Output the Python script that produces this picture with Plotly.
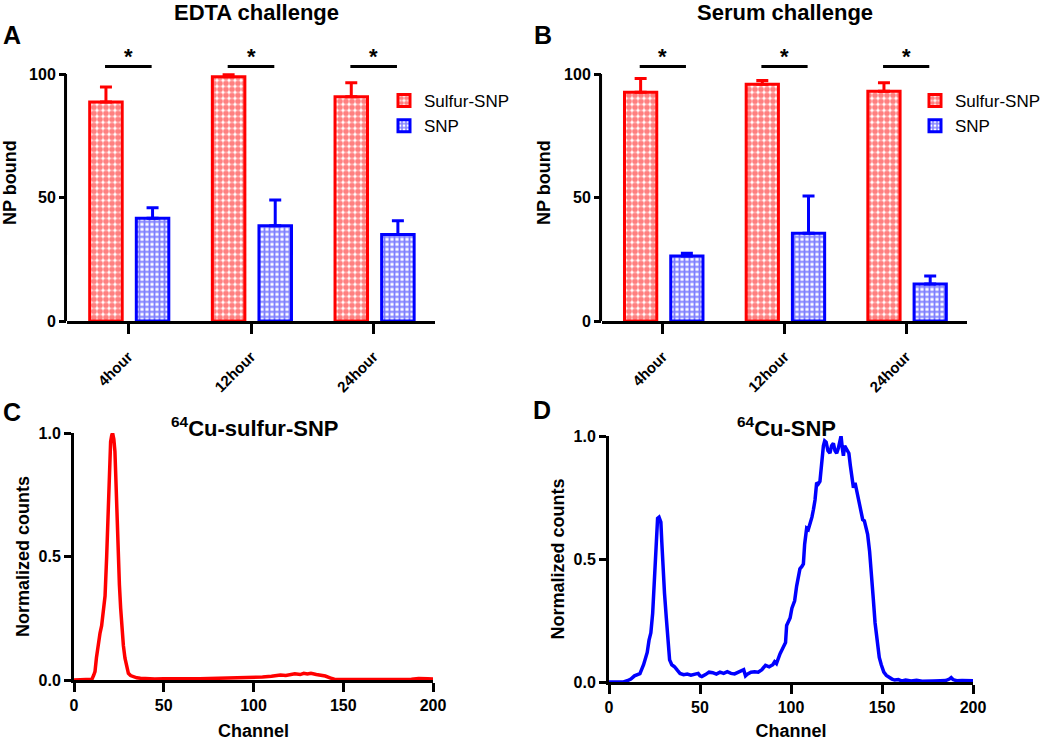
import plotly.graph_objects as go

# ---------------- data ----------------
categories = ["4hour", "12hour", "24hour"]

edta_sulfur = [88.7, 98.9, 90.8]
edta_sulfur_err = [6.0, 0.8, 5.7]
edta_snp = [41.6, 38.6, 35.0]
edta_snp_err = [4.2, 10.4, 5.6]

serum_sulfur = [92.6, 95.8, 93.0]
serum_sulfur_err = [5.6, 1.6, 3.5]
serum_snp = [26.3, 35.5, 15.0]
serum_snp_err = [1.1, 15.1, 3.2]

sig_labels = ["*", "*", "*"]

# 64Cu-sulfur-SNP radio-TLC trace (channel, normalized counts)
c_channel = [0, 3, 6, 9, 10, 11, 11.7, 12.5, 13.6, 14.5, 15.4, 16.3, 17.3, 18.2, 19.1, 19.8,
             20.4, 21, 21.5, 22.2, 22.8, 23.3, 23.8, 24.5, 25.3, 26, 26.6, 27.5, 28.4, 29.3,
             30.3, 31.5, 33, 35, 37, 40, 45, 50, 55, 60, 65, 70, 75, 80, 85, 90, 95, 100,
             105, 110, 115, 118, 120, 123, 126, 128, 130, 132, 135, 138, 140, 143, 145, 148,
             150, 160, 170, 180, 188, 192, 195, 197, 200]
c_counts = [0, 0, 0, 0, 0.003, 0.02, 0.034, 0.09, 0.155, 0.19, 0.22, 0.27, 0.34, 0.5, 0.695, 0.86,
            0.965, 0.99, 1.0, 0.975, 0.925, 0.82, 0.695, 0.53, 0.385, 0.29, 0.22, 0.14, 0.088, 0.05,
            0.027, 0.018, 0.013, 0.009, 0.007, 0.005, 0.004, 0.005, 0.006, 0.004, 0.005, 0.005, 0.006,
            0.006, 0.007, 0.008, 0.008, 0.009, 0.012, 0.015, 0.02, 0.018, 0.022, 0.025, 0.022, 0.027,
            0.024, 0.027, 0.022, 0.02, 0.016, 0.008, 0.003, 0.002, 0.002, 0.002, 0.002, 0.002, 0.003,
            0.006, 0.007, 0.005, 0.004]

# 64Cu-SNP radio-TLC trace
d_channel = [0, 5, 8, 10, 12, 14, 16, 17, 19, 20, 21, 22, 23, 24, 25, 26, 26.7, 27.5, 28.5, 29,
             29.7, 30.5, 31.5, 32.5, 33.3, 34.5, 36, 37.5, 39, 41, 43, 45, 47, 49, 50, 51, 53, 55,
             57, 59, 61, 63, 65, 67, 69, 71, 73, 74, 75, 76, 78, 80, 82, 84, 86, 88, 90, 91, 92,
             93, 94, 95, 96, 97, 97.6, 98.5, 99.5, 100.5, 101.3, 102, 103.1, 104, 104.9, 106,
             106.8, 107.5, 108.6, 109.5, 110.4, 111.5, 112.3, 113.2, 114.1, 115, 115.9, 116.8,
             117.8, 118.5, 119.3, 120.3, 121.4, 122.3, 123.3, 124.2, 125.1, 126, 127, 127.5, 128.2,
             128.8, 129.5, 130.2, 131, 131.8, 132.6, 133.3, 134.3, 135.2, 136, 136.8, 137.7, 138.5,
             139.4, 140.3, 141.2, 142.1, 143.2, 144.3, 145.2, 146.2, 147.3, 148.5, 149.6, 151,
             152.4, 154, 155.5, 157, 159, 161, 163, 166, 169, 172, 175, 178, 182, 185, 187, 188,
             189, 191, 194, 197, 200]
d_counts = [0, 0, 0, 0.005, 0.012, 0.025, 0.03, 0.034, 0.07, 0.095, 0.12, 0.17, 0.2, 0.28, 0.42,
            0.6, 0.665, 0.67, 0.65, 0.57, 0.46, 0.36, 0.26, 0.16, 0.09, 0.07, 0.062, 0.048, 0.035,
            0.03, 0.032, 0.028, 0.03, 0.035, 0.025, 0.022, 0.03, 0.04, 0.038, 0.032, 0.04, 0.035,
            0.042, 0.035, 0.033, 0.04, 0.045, 0.05, 0.025, 0.032, 0.04, 0.042, 0.04, 0.05, 0.068,
            0.062, 0.07, 0.082, 0.075, 0.1, 0.115, 0.13, 0.145, 0.16, 0.23, 0.245, 0.26, 0.3, 0.32,
            0.33, 0.39, 0.42, 0.46, 0.47, 0.48, 0.56, 0.625, 0.62, 0.64, 0.67, 0.7, 0.74, 0.81,
            0.805, 0.815, 0.89, 0.96, 0.98, 0.975, 0.94, 0.93, 0.96, 0.97, 0.94, 0.93, 0.95, 0.99,
            1.0, 0.95, 0.92, 0.96, 0.95, 0.94, 0.93, 0.88, 0.84, 0.79, 0.81, 0.78, 0.76, 0.73, 0.69,
            0.66, 0.655, 0.62, 0.6, 0.53, 0.44, 0.34, 0.24, 0.16, 0.1, 0.07, 0.04, 0.027, 0.018,
            0.012, 0.008, 0.01, 0.004, 0.008, 0.004, 0.007, 0.003, 0.005, 0.004, 0.005, 0.006,
            0.012, 0.018, 0.01, 0.005, 0.006, 0.004, 0.005]

# ---------------- styling ----------------
W, H = 1050, 741
FONT = "Liberation Sans, Arial, sans-serif"
RED = "#FF0000"
BLUE = "#0000FF"


def px_x(p):
    return p / W


def px_y(p):
    return 1 - p / H


fig = go.Figure()

BAR_W = 0.265
OFF_SULF = -0.315
OFF_SNP = 0.065


def add_bars(xa, ya, legend, sulf, sulf_err, snp, snp_err):
    fig.add_trace(go.Bar(
        x=categories, y=sulf, name="Sulfur-SNP", xaxis=xa, yaxis=ya, legend=legend,
        offset=OFF_SULF, width=BAR_W,
        marker=dict(color="white", line=dict(color=RED, width=3),
                    pattern=dict(shape=".", fgcolor=RED, bgcolor="white", size=6,
                                 solidity=0.7, fillmode="overlay")),
        error_y=dict(type="data", array=sulf_err, arrayminus=[0] * len(sulf_err),
                     symmetric=False, color=RED, thickness=3, width=6),
    ))
    fig.add_trace(go.Bar(
        x=categories, y=snp, name="SNP", xaxis=xa, yaxis=ya, legend=legend,
        offset=OFF_SNP, width=BAR_W,
        marker=dict(color="white", line=dict(color=BLUE, width=3),
                    pattern=dict(shape="+", fgcolor=BLUE, bgcolor="white", size=5,
                                 solidity=0.6, fillmode="overlay")),
        error_y=dict(type="data", array=snp_err, arrayminus=[0] * len(snp_err),
                     symmetric=False, color=BLUE, thickness=3, width=6),
    ))


add_bars("x", "y", "legend", edta_sulfur, edta_sulfur_err, edta_snp, edta_snp_err)
add_bars("x2", "y2", "legend2", serum_sulfur, serum_sulfur_err, serum_snp, serum_snp_err)

fig.add_trace(go.Scatter(x=c_channel, y=c_counts, mode="lines", xaxis="x3", yaxis="y3",
                         line=dict(color=RED, width=3.5), showlegend=False, cliponaxis=False))
fig.add_trace(go.Scatter(x=d_channel, y=d_counts, mode="lines", xaxis="x4", yaxis="y4",
                         line=dict(color=BLUE, width=3.5), showlegend=False, cliponaxis=False))

tickfont = dict(family=FONT, size=16, color="black", weight="bold")
titlefont = dict(family=FONT, size=18, color="black", weight="bold")

bar_x = dict(type="category", range=[-0.5, 2.5], showline=True, linewidth=3, linecolor="black",
             ticks="outside", ticklen=10, tickwidth=3, tickcolor="black", tickangle=-45,
             tickfont=dict(family=FONT, size=15, color="black", weight="bold"),
             showgrid=False, zeroline=False, ticklabelstandoff=8, layer="below traces",
             automargin=False)
bar_y = dict(range=[0, 112], tickvals=[0, 50, 100], showline=False, ticks="outside", ticklen=7,
             tickwidth=3, tickcolor="black", tickfont=tickfont, showgrid=False, zeroline=False,
             automargin=False, title=dict(text="NP bound", font=titlefont, standoff=8))

line_x = dict(range=[0, 200], tickvals=[0, 50, 100, 150, 200], showline=True, linewidth=3,
              linecolor="black", ticks="outside", ticklen=9, tickwidth=3, tickcolor="black",
              tickfont=tickfont, showgrid=False, zeroline=False, layer="below traces",
              automargin=False, title=dict(text="Channel", font=titlefont, standoff=13))
line_y = dict(range=[0, 1], tickvals=[0, 0.5, 1], tickformat=".1f", showline=True, linewidth=3,
              linecolor="black", ticks="outside", ticklen=7, tickwidth=3, tickcolor="black",
              tickfont=tickfont, showgrid=False, zeroline=False, layer="below traces",
              automargin=False, title=dict(text="Normalized counts", font=titlefont, standoff=5))

AB_dom_y = [px_y(321), px_y(321 - 112 * 2.47)]
fig.update_layout(
    xaxis=dict(bar_x, domain=[px_x(67), px_x(435)], anchor="y"),
    yaxis=dict(bar_y, domain=AB_dom_y, anchor="x"),
    xaxis2=dict(bar_x, domain=[px_x(602), px_x(967)], anchor="y2"),
    yaxis2=dict(bar_y, domain=AB_dom_y, anchor="x2"),
    xaxis3=dict(line_x, domain=[px_x(74), px_x(433)], anchor="y3"),
    yaxis3=dict(line_y, domain=[px_y(680), px_y(433)], anchor="x3"),
    xaxis4=dict(line_x, domain=[px_x(609), px_x(973)], anchor="y4"),
    yaxis4=dict(line_y, domain=[px_y(682), px_y(436)], anchor="x4"),
)

# y-axis lines of bar panels stop at 100
shapes = []
annotations = []
for xa, ya in [("x", "y"), ("x2", "y2")]:
    shapes.append(dict(type="line", xref=f"{xa} domain", yref=ya, x0=-0.004, x1=-0.004,
                       y0=0, y1=100, line=dict(color="black", width=3), layer="above"))
    for i, lab in enumerate(sig_labels):
        shapes.append(dict(type="line", xref=xa, yref=ya, x0=i - 0.19, x1=i + 0.19,
                           y0=103, y1=103, line=dict(color="black", width=3)))
        annotations.append(dict(xref=xa, yref=ya, x=i, y=107, text=lab, showarrow=False,
                                yanchor="middle",
                                font=dict(family=FONT, size=22, color="black", weight="bold")))

big = dict(family=FONT, size=25, color="black", weight="bold")
ttl = dict(family=FONT, size=22, color="black", weight="bold")
for txt, x, y, f in [("A", 12, 35, big), ("B", 543, 35, big), ("C", 12, 412, big),
                     ("D", 542, 410, big),
                     ("EDTA challenge", 256, 12, ttl), ("Serum challenge", 785, 12, ttl),
                     ("<sup>64</sup>Cu-sulfur-SNP", 254, 427, ttl),
                     ("<sup>64</sup>Cu-SNP", 786, 427, ttl)]:
    annotations.append(dict(xref="paper", yref="paper", x=px_x(x), y=px_y(y), text=txt,
                            showarrow=False, xanchor="center", yanchor="middle", font=f))

leg = dict(xanchor="left", yanchor="top", font=dict(family=FONT, size=17, color="black"),
           bgcolor="rgba(0,0,0,0)", tracegroupgap=0, itemwidth=30)
fig.update_layout(
    width=W, height=H, margin=dict(l=0, r=0, t=0, b=0, autoexpand=False),
    paper_bgcolor="white", plot_bgcolor="white",
    barmode="overlay",
    shapes=shapes, annotations=annotations,
    legend=dict(leg, x=px_x(384), y=px_y(83)),
    legend2=dict(leg, x=px_x(915), y=px_y(83)),
    font=dict(family=FONT, color="black"),
)

fig.write_html(
    "out.html",
    config={"displayModeBar": False},
    post_script="document.body.style.margin='0px';document.body.style.overflow='hidden';",
)
